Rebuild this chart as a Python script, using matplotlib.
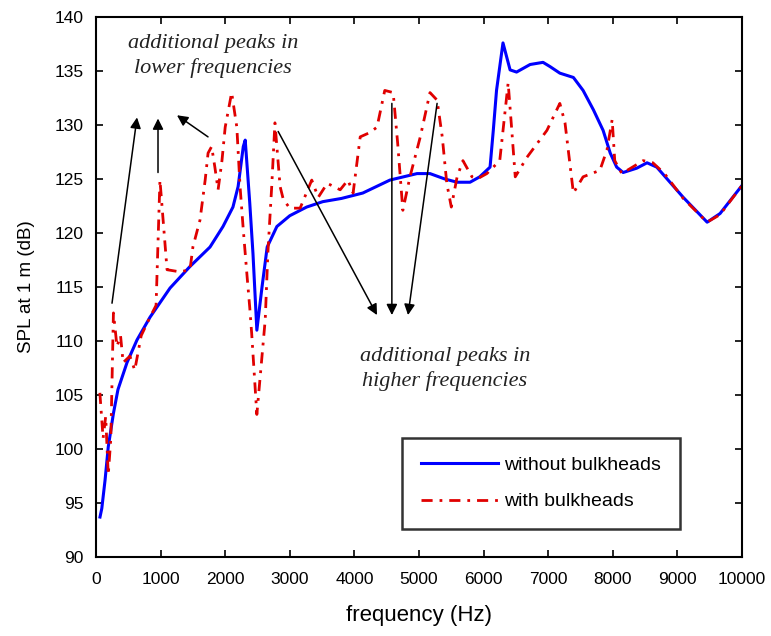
import numpy as np
import matplotlib
matplotlib.use("Agg")
import matplotlib.pyplot as plt

plt.rcParams["font.family"] = ["Liberation Sans", "DejaVu Sans"]

# without bulkheads (blue, solid)
blue_f = [62, 90, 140, 190, 270, 340, 480, 635, 836, 1146,
          1455, 1765, 1966, 2120, 2200, 2280, 2310, 2380, 2430, 2490,
          2570, 2650, 2800, 3000, 3260, 3510, 3800, 4130, 4550, 4970,
          5170, 5400, 5590, 5790, 5940, 6100, 6150, 6200, 6300, 6410,
          6510, 6720, 6920, 7030, 7180, 7390, 7540, 7700, 7850, 7960,
          8060, 8160, 8370, 8530, 8680, 9090, 9460, 9660, 10000]
blue_db = [93.7, 94.5, 97.1, 100.2, 103.3, 105.5, 108.0, 110.1, 112.2, 114.9,
           116.9, 118.7, 120.6, 122.4, 124.3, 128.0, 128.6, 122.8, 118.1, 111.0,
           115.0, 118.7, 120.6, 121.6, 122.4, 122.9, 123.2, 123.7, 124.9, 125.5,
           125.5, 125.0, 124.7, 124.7, 125.2, 126.1, 129.5, 133.2, 137.6, 135.1,
           134.9, 135.6, 135.8, 135.4, 134.8, 134.4, 133.2, 131.4, 129.5, 127.4,
           126.1, 125.6, 126.0, 126.5, 126.1, 123.3, 121.0, 121.8, 124.4]

# with bulkheads (red, dash-dot)
red_f = [60, 110, 150, 190, 230, 270, 325, 380, 420, 525,
         600, 700, 836, 930, 990, 1100, 1300, 1455, 1500, 1610,
         1690, 1735, 1790, 1840, 1890, 1950, 2000, 2100, 2180, 2230,
         2280, 2340, 2380, 2410, 2490, 2620, 2660, 2720, 2770, 2850,
         2900, 3000, 3160, 3340, 3440, 3580, 3780, 3900, 3980, 4090,
         4240, 4350, 4470, 4600, 4670, 4750, 4860, 5020, 5170, 5280,
         5360, 5430, 5500, 5590, 5680, 5820, 5900, 6050, 6250, 6380,
         6430, 6490, 6670, 6980, 7180, 7260, 7390, 7540, 7800, 7910,
         7990, 8030, 8140, 8470, 8620, 8800, 9090, 9460, 9660, 10000]
red_db = [105.2, 101.0, 103.0, 97.6, 101.0, 112.6, 109.5, 110.5, 108.0, 108.6,
          107.3, 110.5, 112.2, 113.3, 124.9, 116.6, 116.4, 116.6, 118.7, 121.2,
          124.9, 127.4, 128.0, 126.1, 124.0, 126.7, 129.8, 133.0, 129.8, 124.3,
          120.3, 115.9, 113.1, 110.7, 103.2, 112.0, 118.1, 124.3, 130.2, 124.3,
          123.1, 122.3, 122.3, 124.9, 123.3, 124.6, 124.0, 124.9, 123.7, 128.9,
          129.3, 129.8, 133.2, 133.0, 128.3, 122.1, 125.2, 128.9, 133.0, 132.3,
          128.9, 124.6, 122.4, 125.2, 126.7, 125.2, 125.0, 125.5, 126.7, 133.9,
          130.0, 125.2, 127.0, 129.5, 132.0, 130.2, 123.7, 125.2, 125.8, 127.7,
          130.5, 126.7, 125.5, 126.7, 126.5, 125.5, 123.2, 121.0, 121.7, 124.4]

fig = plt.figure(figsize=(7.71, 6.36), dpi=100)
ax = fig.add_axes([0.1245, 0.1242, 0.8379, 0.8491])

ax.plot(blue_f, blue_db, color="#0000ff", lw=2.2, label="without bulkheads")
ax.plot(red_f, red_db, color="#e00000", lw=2.0, dashes=(4, 2.5, 1, 2.5),
        label="with bulkheads")

ax.set_xlim(0, 10000)
ax.set_ylim(90, 140)
ax.set_xticks(np.arange(0, 10001, 1000))
ax.set_yticks(np.arange(90, 141, 5))
ax.tick_params(direction="in", top=True, right=True, length=5, width=1.2,
               labelsize=12.5)
ax.tick_params(axis="x", pad=11)
ax.tick_params(axis="y", pad=9)
for s in ax.spines.values():
    s.set_linewidth(1.5)
ax.set_xlabel("frequency (Hz)", fontsize=16, labelpad=13)
ax.set_ylabel("SPL at 1 m (dB)", fontsize=13.5, labelpad=14)

# annotations
txt = dict(family="Liberation Serif", style="italic", fontsize=16,
           color="#222222", ha="center", va="center", linespacing=1.3)
ax.text(1811, 136.4, "additional peaks in\nlower frequencies", **txt)
ax.text(5400, 107.4, "additional peaks in\nhigher frequencies", **txt)

arr = dict(arrowstyle="-|>", color="k", lw=1.1, mutation_scale=16,
           shrinkA=0, shrinkB=0)
for start, end in [((248, 113.5), (635, 130.7)),
                   ((960, 125.6), (960, 130.6)),
                   ((1734, 128.9), (1254, 130.9)),
                   ((2820, 129.4), (4350, 112.4)),
                   ((4580, 132.0), (4580, 112.4)),
                   ((5280, 132.0), (4830, 112.4))]:
    ax.annotate("", xy=end, xytext=start, arrowprops=arr)

leg = ax.legend(loc="upper left", bbox_to_anchor=(0.474, 0.0, 0.43, 0.22),
                mode="expand", fontsize=14, frameon=True, fancybox=False,
                edgecolor="k", handlelength=4.0, borderpad=0.95,
                labelspacing=0.95, handletextpad=0.3, borderaxespad=0)
leg.get_frame().set_linewidth(1.8)

fig.savefig("out.png", dpi=100)
